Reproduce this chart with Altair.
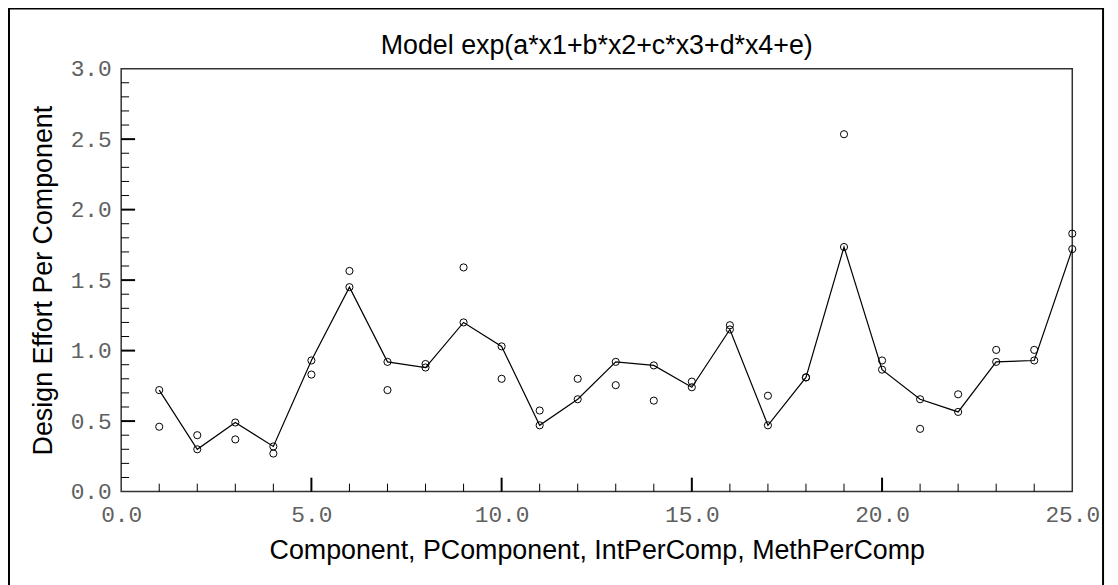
import altair as alt
import pandas as pd

# ---- data ----
component = [1, 2, 3, 4, 5, 6, 7, 8, 9, 10, 11, 12, 13, 14, 15, 16, 17, 18, 19, 20, 21, 22, 23, 24, 25]
model_effort = [0.72, 0.30, 0.49, 0.32, 0.93, 1.45, 0.92, 0.88, 1.20, 1.03,
                0.47, 0.655, 0.92, 0.895, 0.74, 1.15, 0.47, 0.81, 1.735, 0.865,
                0.655, 0.565, 0.92, 0.93, 1.72]
actual_effort = [0.46, 0.40, 0.37, 0.27, 0.83, 1.565, 0.72, 0.905, 1.59, 0.80,
                 0.575, 0.80, 0.755, 0.645, 0.78, 1.18, 0.68, 0.81, 2.535, 0.93,
                 0.445, 0.69, 1.005, 1.005, 1.83]

chart_title = ["Model exp(a*x1+b*x2+c*x3+d*x4+e)"]
x_label_values = [0, 5, 10, 15, 20, 25]
y_label_values = [0.0, 0.5, 1.0, 1.5, 2.0, 2.5, 3.0]
x_major_ticks = [5, 10, 15, 20]
x_minor_ticks = [1, 2, 3, 4, 6, 7, 8, 9, 11, 12, 13, 14, 16, 17, 18, 19, 21, 22, 23, 24]
y_major_ticks = [0.5, 1.0, 1.5, 2.0, 2.5]
y_minor_ticks = [0.1, 0.2, 0.3, 0.4, 0.6, 0.7, 0.8, 0.9, 1.1, 1.2, 1.3, 1.4,
                 1.6, 1.7, 1.8, 1.9, 2.1, 2.2, 2.3, 2.4, 2.6, 2.7, 2.8, 2.9]

df = pd.DataFrame({"Component": component, "Model": model_effort, "Actual": actual_effort})

W, H = 958, 426

xs = alt.Scale(domain=[0, 25], nice=False, zero=False)
ys = alt.Scale(domain=[0, 3], nice=False, zero=False)

common_axis = dict(ticks=False, tickSize=0, domain=False, grid=False,
                   labelFont="Liberation Mono", labelFontSize=23, labelColor="#606060",
                   labelFlush=False, labelOverlap=False,
                   titleFont="Liberation Sans", titleFontSize=27,
                   titleFontWeight="normal", titleColor="black", format=".1f")
xaxis = alt.Axis(values=x_label_values, title="Component, PComponent, IntPerComp, MethPerComp",
                 labelPadding=12, titlePadding=11, **common_axis)
yaxis = alt.Axis(values=y_label_values, title="Design Effort Per Component",
                 labelPadding=10, titlePadding=13, **common_axis)


def X(field):
    return alt.X(f"{field}:Q", scale=xs, axis=xaxis)


def Y(field):
    return alt.Y(f"{field}:Q", scale=ys, axis=yaxis)


line = alt.Chart(df).mark_line(color="black", strokeWidth=1.2).encode(
    x=X("Component"), y=Y("Model"))
pts_model = alt.Chart(df).mark_point(shape="circle", filled=False, color="black",
                                     size=52, strokeWidth=1, opacity=1).encode(
    x=X("Component"), y=Y("Model"))
pts_actual = alt.Chart(df).mark_point(shape="circle", filled=False, color="black",
                                      size=52, strokeWidth=1, opacity=1).encode(
    x=X("Component"), y=Y("Actual"))

xmaj = alt.Chart(pd.DataFrame({"Component": x_major_ticks})).mark_rule(
    color="black", strokeWidth=2).encode(x=X("Component"), y=alt.value(H), y2=alt.value(H - 14))
xmin = alt.Chart(pd.DataFrame({"Component": x_minor_ticks})).mark_rule(
    color="black", strokeWidth=1).encode(x=X("Component"), y=alt.value(H), y2=alt.value(H - 8))
ymaj = alt.Chart(pd.DataFrame({"Model": y_major_ticks})).mark_rule(
    color="black", strokeWidth=2).encode(y=Y("Model"), x=alt.value(0), x2=alt.value(14))
ymin = alt.Chart(pd.DataFrame({"Model": y_minor_ticks})).mark_rule(
    color="black", strokeWidth=1).encode(y=Y("Model"), x=alt.value(0), x2=alt.value(8))

frame = alt.Chart(pd.DataFrame({"f": [0]})).mark_rect(
    filled=False, stroke="black", strokeWidth=2, fill=None).encode(
    x=alt.value(-113), x2=alt.value(989), y=alt.value(-60.5), y2=alt.value(700))

title = alt.Chart(pd.DataFrame({"t": chart_title})).mark_text(
    font="Liberation Sans", fontSize=27, color="black", align="center",
    baseline="alphabetic").encode(
    text="t:N", x=alt.value(W / 2), y=alt.value(-15))

chart = alt.layer(frame, title, line, pts_model, pts_actual, xmaj, xmin, ymaj, ymin).properties(
    width=W, height=H,
    autosize=alt.AutoSizeParams(type="none"),
    padding={"left": 114, "top": 59, "right": 38, "bottom": 92},
).configure_view(stroke="#333", strokeWidth=1.5)

chart.save("out.html", embed_options={"renderer": "svg", "actions": False})
